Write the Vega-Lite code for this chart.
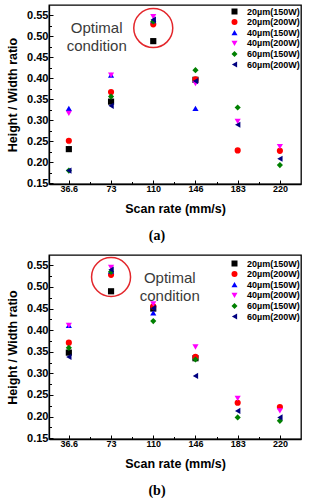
{
  "$schema": "https://vega.github.io/schema/vega-lite/v6.json",
  "background": "white",
  "padding": {"left": 5, "top": 4, "right": 5, "bottom": 2},
  "spacing": 9,
  "datasets": {
    "pts": [
      {"panel": "a", "i": 1, "s": "20µm(150W)", "v": 0.231},
      {"panel": "a", "i": 1, "s": "20µm(200W)", "v": 0.251},
      {"panel": "a", "i": 1, "s": "40µm(150W)", "v": 0.328},
      {"panel": "a", "i": 1, "s": "40µm(200W)", "v": 0.316},
      {"panel": "a", "i": 1, "s": "60µm(150W)", "v": 0.180},
      {"panel": "a", "i": 1, "s": "60µm(200W)", "v": 0.180},
      {"panel": "a", "i": 2, "s": "20µm(150W)", "v": 0.344},
      {"panel": "a", "i": 2, "s": "20µm(200W)", "v": 0.367},
      {"panel": "a", "i": 2, "s": "40µm(150W)", "v": 0.407},
      {"panel": "a", "i": 2, "s": "40µm(200W)", "v": 0.407},
      {"panel": "a", "i": 2, "s": "60µm(150W)", "v": 0.356},
      {"panel": "a", "i": 2, "s": "60µm(200W)", "v": 0.334},
      {"panel": "a", "i": 3, "s": "20µm(150W)", "v": 0.488},
      {"panel": "a", "i": 3, "s": "20µm(200W)", "v": 0.528},
      {"panel": "a", "i": 3, "s": "40µm(150W)", "v": 0.537},
      {"panel": "a", "i": 3, "s": "40µm(200W)", "v": 0.546},
      {"panel": "a", "i": 3, "s": "60µm(150W)", "v": 0.535},
      {"panel": "a", "i": 3, "s": "60µm(200W)", "v": 0.539},
      {"panel": "a", "i": 4, "s": "20µm(150W)", "v": 0.396},
      {"panel": "a", "i": 4, "s": "20µm(200W)", "v": 0.397},
      {"panel": "a", "i": 4, "s": "40µm(150W)", "v": 0.328},
      {"panel": "a", "i": 4, "s": "40µm(200W)", "v": 0.387},
      {"panel": "a", "i": 4, "s": "60µm(150W)", "v": 0.419},
      {"panel": "a", "i": 4, "s": "60µm(200W)", "v": 0.393},
      {"panel": "a", "i": 5, "s": "20µm(200W)", "v": 0.228},
      {"panel": "a", "i": 5, "s": "40µm(200W)", "v": 0.297},
      {"panel": "a", "i": 5, "s": "60µm(150W)", "v": 0.330},
      {"panel": "a", "i": 5, "s": "60µm(200W)", "v": 0.289},
      {"panel": "a", "i": 6, "s": "20µm(200W)", "v": 0.227},
      {"panel": "a", "i": 6, "s": "40µm(200W)", "v": 0.237},
      {"panel": "a", "i": 6, "s": "60µm(150W)", "v": 0.193},
      {"panel": "a", "i": 6, "s": "60µm(200W)", "v": 0.208},
      {"panel": "b", "i": 1, "s": "20µm(150W)", "v": 0.348},
      {"panel": "b", "i": 1, "s": "20µm(200W)", "v": 0.371},
      {"panel": "b", "i": 1, "s": "40µm(150W)", "v": 0.411},
      {"panel": "b", "i": 1, "s": "40µm(200W)", "v": 0.411},
      {"panel": "b", "i": 1, "s": "60µm(150W)", "v": 0.359},
      {"panel": "b", "i": 1, "s": "60µm(200W)", "v": 0.338},
      {"panel": "b", "i": 2, "s": "20µm(150W)", "v": 0.490},
      {"panel": "b", "i": 2, "s": "20µm(200W)", "v": 0.528},
      {"panel": "b", "i": 2, "s": "40µm(150W)", "v": 0.537},
      {"panel": "b", "i": 2, "s": "40µm(200W)", "v": 0.545},
      {"panel": "b", "i": 2, "s": "60µm(150W)", "v": 0.535},
      {"panel": "b", "i": 2, "s": "60µm(200W)", "v": 0.540},
      {"panel": "b", "i": 3, "s": "20µm(150W)", "v": 0.450},
      {"panel": "b", "i": 3, "s": "20µm(200W)", "v": 0.455},
      {"panel": "b", "i": 3, "s": "40µm(150W)", "v": 0.440},
      {"panel": "b", "i": 3, "s": "40µm(200W)", "v": 0.461},
      {"panel": "b", "i": 3, "s": "60µm(150W)", "v": 0.421},
      {"panel": "b", "i": 3, "s": "60µm(200W)", "v": 0.451},
      {"panel": "b", "i": 4, "s": "20µm(150W)", "v": 0.335},
      {"panel": "b", "i": 4, "s": "20µm(200W)", "v": 0.338},
      {"panel": "b", "i": 4, "s": "40µm(200W)", "v": 0.361},
      {"panel": "b", "i": 4, "s": "60µm(150W)", "v": 0.332},
      {"panel": "b", "i": 4, "s": "60µm(200W)", "v": 0.294},
      {"panel": "b", "i": 5, "s": "20µm(200W)", "v": 0.232},
      {"panel": "b", "i": 5, "s": "40µm(200W)", "v": 0.242},
      {"panel": "b", "i": 5, "s": "60µm(150W)", "v": 0.198},
      {"panel": "b", "i": 5, "s": "60µm(200W)", "v": 0.213},
      {"panel": "b", "i": 6, "s": "20µm(200W)", "v": 0.222},
      {"panel": "b", "i": 6, "s": "40µm(200W)", "v": 0.213},
      {"panel": "b", "i": 6, "s": "60µm(150W)", "v": 0.190},
      {"panel": "b", "i": 6, "s": "60µm(200W)", "v": 0.198}
    ],
    "notes": [
      {"panel": "a", "ci": 3, "cv": 0.519, "ti": 1.66, "tv": 0.520, "label": "Optimal\ncondition"},
      {"panel": "b", "ci": 2, "cv": 0.523, "ti": 3.39, "tv": 0.521, "label": "Optimal\ncondition"}
    ]
  },
  "resolve": {"scale": {"color": "independent", "shape": "independent"}, "legend": {"color": "independent", "shape": "independent"}},
  "config": {
    "view": {"stroke": "#000000", "strokeWidth": 1.3},
    "axis": {
      "domainColor": "#000000",
      "domainWidth": 1.3,
      "tickColor": "#000000",
      "tickWidth": 1,
      "grid": false,
      "labelOverlap": false,
      "labelFont": "Liberation Sans",
      "labelFontWeight": "bold",
      "labelColor": "#000000",
      "titleFont": "Liberation Sans",
      "titleFontWeight": "bold",
      "titleFontSize": 12.5,
      "titleColor": "#000000"
    },
    "legend": {
      "labelFont": "Liberation Sans",
      "labelFontWeight": "bold",
      "labelFontSize": 9,
      "labelColor": "#000000",
      "symbolSize": 36,
      "symbolStrokeWidth": 0,
      "rowPadding": 0.6,
      "padding": 0,
      "labelOffset": 8,
      "title": null
    },
    "title": {"font": "Liberation Serif", "fontSize": 14, "fontWeight": "bold", "color": "#000000"}
  },
  "vconcat": [
    {
      "width": 252,
      "height": 179,
      "title": {"text": "(a)", "orient": "bottom", "dx": -18, "offset": 14},
      "layer": [
        {
          "data": {"name": "pts"},
          "transform": [{"filter": "datum.panel === 'a'"}],
          "mark": {"type": "point", "filled": true, "size": 38, "opacity": 1},
          "encoding": {
            "x": {
              "field": "i", "type": "quantitative",
              "scale": {"domain": [0.53, 6.5], "nice": false, "zero": false},
              "axis": {
                "title": "Scan rate (mm/s)",
                "values": [1, 1.5, 2, 2.5, 3, 3.5, 4, 4.5, 5, 5.5, 6],
                "tickCount": 100,
                "labelExpr": "datum.value % 1 === 0 ? ['36.6','73','110','146','183','220'][datum.value - 1] : ''",
                "labelFontSize": 9,
                "labelOverlap": false,
                "tickSize": {"condition": {"test": "datum.value % 1 !== 0", "value": -2.5}, "value": -4},
                "labelPadding": 4,
                "titlePadding": 8
              }
            },
            "y": {
              "field": "v", "type": "quantitative",
              "scale": {"domain": [0.148, 0.574], "nice": false, "zero": false},
              "axis": {
                "title": "Height / Width ratio",
                "values": [0.15, 0.175, 0.2, 0.225, 0.25, 0.275, 0.3, 0.325, 0.35, 0.375, 0.4, 0.425, 0.45, 0.475, 0.5, 0.525, 0.55],
                "tickCount": 100,
                "labelExpr": "abs(datum.value * 20 - round(datum.value * 20)) < 0.01 ? format(datum.value, '.2f') : ''",
                "labelFontSize": 11,
                "labelOverlap": false,
                "labelBound": false,
                "tickSize": {"condition": {"test": "abs(datum.value * 20 - round(datum.value * 20)) > 0.01", "value": -2.5}, "value": -4},
                "labelPadding": 5,
                "titlePadding": 7
              }
            },
            "color": {
              "field": "s", "type": "nominal",
              "sort": ["20µm(150W)", "20µm(200W)", "40µm(150W)", "40µm(200W)", "60µm(150W)", "60µm(200W)"],
              "scale": {"domain": ["20µm(150W)", "20µm(200W)", "40µm(150W)", "40µm(200W)", "60µm(150W)", "60µm(200W)"], "range": ["#000000", "#ff0000", "#0000ff", "#ff00ff", "#008000", "#000080"]},
              "legend": {"orient": "none", "legendX": 181, "legendY": 2}
            },
            "shape": {
              "field": "s", "type": "nominal",
              "sort": ["20µm(150W)", "20µm(200W)", "40µm(150W)", "40µm(200W)", "60µm(150W)", "60µm(200W)"],
              "scale": {"domain": ["20µm(150W)", "20µm(200W)", "40µm(150W)", "40µm(200W)", "60µm(150W)", "60µm(200W)"], "range": ["square", "circle", "triangle-up", "triangle-down", "diamond", "triangle-left"]},
              "legend": {"orient": "none", "legendX": 181, "legendY": 2}
            }
          }
        },
        {
          "data": {"name": "notes"},
          "transform": [{"filter": "datum.panel === 'a'"}],
          "mark": {"type": "point", "shape": "circle", "filled": false, "size": 1520, "stroke": "#e3262b", "strokeWidth": 1.5, "opacity": 1},
          "encoding": {
            "x": {"field": "ci", "type": "quantitative"},
            "y": {"field": "cv", "type": "quantitative"}
          }
        },
        {
          "data": {"name": "notes"},
          "transform": [{"filter": "datum.panel === 'a'"}],
          "mark": {"type": "text", "lineBreak": "\n", "lineHeight": 18, "font": "Liberation Sans", "fontSize": 15, "color": "#3a3a3a", "align": "center", "baseline": "middle"},
          "encoding": {
            "x": {"field": "ti", "type": "quantitative"},
            "y": {"field": "tv", "type": "quantitative"},
            "text": {"field": "label"}
          }
        }
      ]
    },
    {
      "width": 252,
      "height": 184,
      "title": {"text": "(b)", "orient": "bottom", "dx": -18, "offset": 14},
      "layer": [
        {
          "data": {"name": "pts"},
          "transform": [{"filter": "datum.panel === 'b'"}],
          "mark": {"type": "point", "filled": true, "size": 38, "opacity": 1},
          "encoding": {
            "x": {
              "field": "i", "type": "quantitative",
              "scale": {"domain": [0.53, 6.5], "nice": false, "zero": false},
              "axis": {
                "title": "Scan rate (mm/s)",
                "values": [1, 1.5, 2, 2.5, 3, 3.5, 4, 4.5, 5, 5.5, 6],
                "tickCount": 100,
                "labelExpr": "datum.value % 1 === 0 ? ['36.6','73','110','146','183','220'][datum.value - 1] : ''",
                "labelFontSize": 9,
                "labelOverlap": false,
                "tickSize": {"condition": {"test": "datum.value % 1 !== 0", "value": -2.5}, "value": -4},
                "labelPadding": 4,
                "titlePadding": 8
              }
            },
            "y": {
              "field": "v", "type": "quantitative",
              "scale": {"domain": [0.148, 0.574], "nice": false, "zero": false},
              "axis": {
                "title": "Height / Width ratio",
                "values": [0.15, 0.175, 0.2, 0.225, 0.25, 0.275, 0.3, 0.325, 0.35, 0.375, 0.4, 0.425, 0.45, 0.475, 0.5, 0.525, 0.55],
                "tickCount": 100,
                "labelExpr": "abs(datum.value * 20 - round(datum.value * 20)) < 0.01 ? format(datum.value, '.2f') : ''",
                "labelFontSize": 11,
                "labelOverlap": false,
                "labelBound": false,
                "tickSize": {"condition": {"test": "abs(datum.value * 20 - round(datum.value * 20)) > 0.01", "value": -2.5}, "value": -4},
                "labelPadding": 5,
                "titlePadding": 7
              }
            },
            "color": {
              "field": "s", "type": "nominal",
              "sort": ["20µm(150W)", "20µm(200W)", "40µm(150W)", "40µm(200W)", "60µm(150W)", "60µm(200W)"],
              "scale": {"domain": ["20µm(150W)", "20µm(200W)", "40µm(150W)", "40µm(200W)", "60µm(150W)", "60µm(200W)"], "range": ["#000000", "#ff0000", "#0000ff", "#ff00ff", "#008000", "#000080"]},
              "legend": {"orient": "none", "legendX": 181, "legendY": 4}
            },
            "shape": {
              "field": "s", "type": "nominal",
              "sort": ["20µm(150W)", "20µm(200W)", "40µm(150W)", "40µm(200W)", "60µm(150W)", "60µm(200W)"],
              "scale": {"domain": ["20µm(150W)", "20µm(200W)", "40µm(150W)", "40µm(200W)", "60µm(150W)", "60µm(200W)"], "range": ["square", "circle", "triangle-up", "triangle-down", "diamond", "triangle-left"]},
              "legend": {"orient": "none", "legendX": 181, "legendY": 4}
            }
          }
        },
        {
          "data": {"name": "notes"},
          "transform": [{"filter": "datum.panel === 'b'"}],
          "mark": {"type": "point", "shape": "circle", "filled": false, "size": 1520, "stroke": "#e3262b", "strokeWidth": 1.5, "opacity": 1},
          "encoding": {
            "x": {"field": "ci", "type": "quantitative"},
            "y": {"field": "cv", "type": "quantitative"}
          }
        },
        {
          "data": {"name": "notes"},
          "transform": [{"filter": "datum.panel === 'b'"}],
          "mark": {"type": "text", "lineBreak": "\n", "lineHeight": 18, "font": "Liberation Sans", "fontSize": 15, "color": "#3a3a3a", "align": "center", "baseline": "middle"},
          "encoding": {
            "x": {"field": "ti", "type": "quantitative"},
            "y": {"field": "tv", "type": "quantitative"},
            "text": {"field": "label"}
          }
        }
      ]
    }
  ]
}
